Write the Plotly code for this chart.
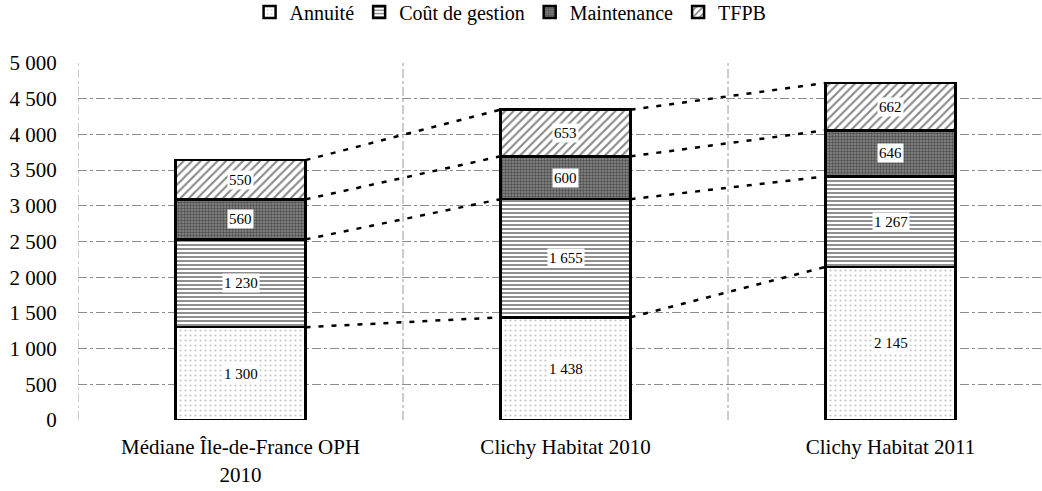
import plotly.graph_objects as go

categories = ["Médiane Île-de-France OPH<br>2010", "Clichy Habitat 2010", "Clichy Habitat 2011"]
annuite = [1300, 1438, 2145]
cout_gestion = [1230, 1655, 1267]
maintenance = [560, 600, 646]
tfpb = [550, 653, 662]
series_names = ["Annuité", "Coût de gestion", "Maintenance", "TFPB"]
y_ticks = [0, 500, 1000, 1500, 2000, 2500, 3000, 3500, 4000, 4500, 5000]

series = [annuite, cout_gestion, maintenance, tfpb]
patterns = [
    dict(shape=".", fgcolor="#8a8a8a", bgcolor="white", size=5, solidity=0.15),
    dict(shape="-", fgcolor="#222222", bgcolor="#ffffff", size=4, solidity=0.5),
    dict(shape=".", fgcolor="#111111", bgcolor="#8a8a8a", size=3, solidity=0.5),
    dict(shape="/", fgcolor="#111111", bgcolor="white", size=6, solidity=0.35),
]

xs = list(range(len(categories)))
width = 0.40
font_family = "'Liberation Serif', 'Times New Roman', 'DejaVu Serif', serif"

fig = go.Figure()
for name, vals, pat in zip(series_names, series, patterns):
    fig.add_trace(go.Bar(
        x=xs, y=vals, name=name, width=width,
        marker=dict(color="white", pattern=pat, line=dict(color="black", width=2.5)),
        hoverinfo="y",
    ))

# cumulative tops for connectors and labels
cum = []
running = [0] * len(xs)
for vals in series:
    bottoms = running[:]
    running = [r + v for r, v in zip(running, vals)]
    cum.append((bottoms, running[:]))

# dotted connectors between bars
for bottoms, tops in cum:
    for i in range(len(xs) - 1):
        fig.add_trace(go.Scatter(
            x=[xs[i] + width / 2, xs[i + 1] - width / 2],
            y=[tops[i], tops[i + 1]],
            mode="lines",
            line=dict(color="black", width=2.5, dash="5px,8px"),
            showlegend=False, hoverinfo="skip",
        ))

# value labels
for (bottoms, tops), vals in zip(cum, series):
    for i, v in enumerate(vals):
        fig.add_annotation(
            x=xs[i], y=(bottoms[i] + tops[i]) / 2,
            text=f"{v:,}".replace(",", " "),
            showarrow=False, bgcolor="white", borderpad=1,
            font=dict(family=font_family, size=15, color="black"),
        )

# vertical dash-dot gridlines between categories
for xv in [-0.5, 0.5, 1.5]:
    fig.add_shape(type="line", x0=xv, x1=xv, y0=0, y1=5000, xref="x", yref="y",
                  line=dict(color="#9a9a9a", width=1, dash="dashdot"), layer="below")

fig.update_layout(
    barmode="stack",
    width=1042, height=491,
    margin=dict(l=78, r=0, t=63, b=71, autoexpand=False),
    paper_bgcolor="white", plot_bgcolor="white",
    separators=", ",
    font=dict(family=font_family, size=21, color="black"),
    legend=dict(orientation="h", x=0.49, xanchor="center", xref="container",
                y=1.143, yanchor="middle", yref="paper",
                font=dict(family=font_family, size=20), itemwidth=30,
                traceorder="normal", tracegroupgap=0),
    showlegend=True,
)
fig.update_xaxes(
    range=[-0.5, 2.466], tickvals=xs, ticktext=categories, automargin=False,
    showgrid=False, zeroline=False, showline=False,
    ticks="outside", ticklen=8, tickcolor="rgba(0,0,0,0)",
    tickfont=dict(family=font_family, size=21),
)
fig.update_yaxes(
    range=[0, 5000], tickvals=y_ticks, tickformat=",d", automargin=False,
    showgrid=True, gridcolor="#8c8c8c", griddash="dashdot", gridwidth=1,
    zeroline=False, showline=False,
    ticks="outside", ticklen=16, tickcolor="rgba(0,0,0,0)",
    tickfont=dict(family=font_family, size=21),
)

fig.write_html("out.html", config={"displayModeBar": False},
               post_script="document.body.style.margin='0';document.body.style.overflow='hidden';")
